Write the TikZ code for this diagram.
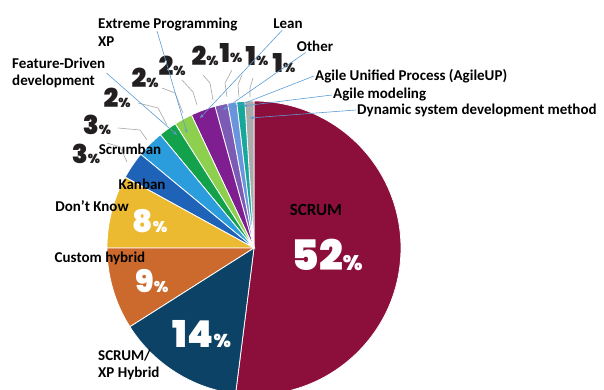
\documentclass[tikz,border=0pt]{standalone}
\usepackage{fontspec}
\setmainfont{Carlito}
\IfFontExistsTF{Poppins Black}
  {\newfontfamily\pctfont{Poppins Black}[BoldFont={Poppins Black}]}
  {\newfontfamily\pctfont{Poppins}}
\usepackage{xcolor}
\usepackage{tikz}
\usetikzlibrary{arrows.meta, positioning}

\definecolor{scrumred}{HTML}{8C0E3A}
\definecolor{hybridblue}{HTML}{0D4267}
\definecolor{customorange}{HTML}{CC6A2E}
\definecolor{dkyellow}{HTML}{EBBA31}
\definecolor{kanbanblue}{HTML}{1E63B8}
\definecolor{scrumbanblue}{HTML}{2B9CDC}
\definecolor{fddgreen}{HTML}{14A14B}
\definecolor{xpgreen}{HTML}{8DD04D}
\definecolor{leanpurple}{HTML}{7E1E91}
\definecolor{otherlilac}{HTML}{7B5BB3}
\definecolor{upblue}{HTML}{6A95DD}
\definecolor{modteal}{HTML}{17A89B}
\definecolor{dsdmgray}{HTML}{ABABAB}
\definecolor{callblue}{HTML}{5B9BD5}
\definecolor{leadgray}{HTML}{A6A6A6}
\definecolor{pctdark}{HTML}{231F20}

% one wedge of the pie: colour, start angle, end angle
\newcommand{\pieslice}[3]{%
  \filldraw[wedge, fill=#1] (c) -- ++(#2:147) arc[start angle=#2, end angle=#3, radius=147] -- cycle;}
\newcommand{\pc}[1]{#1\scalebox{0.5}{\%}}

\begin{document}
\begin{tikzpicture}[
  x=1pt, y=1pt,
  wedge/.style={draw=white, line width=0.8pt},
  lbl/.style={
    font=\bfseries\fontsize{15}{17.5}\selectfont,
    inner sep=1pt,
    align=left
  },
  pct/.style={
    font=\pctfont\bfseries\fontsize{26}{26}\selectfont,
    text=pctdark,
    inner sep=0pt
  },
  inpct/.style={pct, text=white},
  callout/.style={-{Stealth[length=4pt, width=3pt]}, draw=callblue, line width=0.6pt},
  leader/.style={draw=leadgray, line width=0.6pt}
]

\useasboundingbox (0,0) rectangle (604,390);

\coordinate (c) at (254,142);

% the pie
\begin{scope}
\clip (0,0) rectangle (604,390);
\pieslice{scrumred}{-97.2}{90}
\pieslice{dsdmgray}{90}{93.6}
\pieslice{modteal}{93.6}{96.8}
\pieslice{upblue}{96.8}{100.4}
\pieslice{otherlilac}{100.4}{105.4}
\pieslice{leanpurple}{105.4}{115.2}
\pieslice{xpgreen}{115.2}{122.4}
\pieslice{fddgreen}{122.4}{129.6}
\pieslice{scrumbanblue}{129.6}{140.4}
\pieslice{kanbanblue}{140.4}{151.2}
\pieslice{dkyellow}{151.2}{180}
\pieslice{customorange}{180}{212.4}
\pieslice{hybridblue}{212.4}{262.8}
\end{scope}

% labels inside and beside the pie
\node[lbl, font=\bfseries\fontsize{17}{20}\selectfont] (scrum) at (316,180) {SCRUM};
\node[inpct, font=\pctfont\bfseries\fontsize{42}{42}\selectfont] (p52) at (327,135) {\pc{52}};
\node[inpct, font=\pctfont\bfseries\fontsize{37}{37}\selectfont] (p14) at (202,56) {\pc{14}};
\node[inpct, font=\pctfont\bfseries\fontsize{31}{31}\selectfont] (p9) at (152,109) {\pc{9}};
\node[inpct, font=\pctfont\bfseries\fontsize{31}{31}\selectfont] (p8) at (150,169) {\pc{8}};

\node[lbl, anchor=west] (hybrid) at (97,25) {SCRUM/\\XP Hybrid};
\node[lbl] (custom) at (100,132) {Custom hybrid};
\node[lbl] (dontknow) at (92,184) {Don’t Know};
\node[lbl] (kanban) at (142,206) {Kanban};
\node[lbl] (scrumban) at (130,241) {Scrumban};
\node[lbl, anchor=west] (fdd) at (11,317) {Feature-Driven\\development};
\node[lbl, anchor=west] (xp) at (97,358) {Extreme Programming\\XP};
\node[lbl] (lean) at (288,366) {Lean};
\node[lbl] (other) at (315,344) {Other};
\node[lbl, anchor=west] (agileup) at (314,314) {Agile Unified Process (AgileUP)};
\node[lbl, anchor=west] (agilemod) at (332,295) {Agile modeling};
\node[lbl, anchor=west] (dsdm) at (356,280) {Dynamic system development method};

% outside percentages
\node[pct] (pKanban) at (86,236) {\pc{3}};
\node[pct] (pScrumban) at (97,265) {\pc{3}};
\node[pct] (pFdd) at (117,292) {\pc{2}};
\node[pct] (pXp) at (145,312) {\pc{2}};
\node[pct] (pLean) at (172,324) {\pc{2}};
\node[pct] (pOther) at (205,334) {\pc{2}};
\node[pct] (pUp) at (231,337) {\pc{1}};
\node[pct] (pMod) at (257,334) {\pc{1}};
\node[pct] (pDsdm) at (284,327) {\pc{1}};

% leader lines
\coordinate (kanbanA) at (107,247);
\coordinate (kanbanB) at (120,243);
\coordinate (kanbanC) at (127,228);
\coordinate (scrumbanA) at (118,262);
\coordinate (scrumbanB) at (140,260);
\coordinate (scrumbanC) at (147,250);
\coordinate (fddA) at (138,287);
\coordinate (fddB) at (158,282);
\coordinate (fddC) at (167,265);
\coordinate (xpA) at (162,302);
\coordinate (xpB) at (175,297);
\coordinate (xpC) at (183,277);
\coordinate (leanA) at (182,310);
\coordinate (leanB) at (193,298);
\coordinate (leanC) at (197,285);
\coordinate (otherA) at (203,315);
\coordinate (otherB) at (210,307);
\coordinate (otherC) at (213,290);
\coordinate (upA) at (232,320);
\coordinate (upB) at (225,307);
\coordinate (upC) at (227,293);
\coordinate (modA) at (242,315);
\coordinate (modB) at (238,305);
\coordinate (modC) at (239,293);
\coordinate (dsdmA) at (253,312);
\coordinate (dsdmB) at (250,302);
\coordinate (dsdmC) at (250,293);

\draw[leader] (kanbanA) -- (kanbanB) -- (kanbanC);
\draw[leader] (scrumbanA) -- (scrumbanB) -- (scrumbanC);
\draw[leader] (fddA) -- (fddB) -- (fddC);
\draw[leader] (xpA) -- (xpB) -- (xpC);
\draw[leader] (leanA) -- (leanB) -- (leanC);
\draw[leader] (otherA) -- (otherB) -- (otherC);
\draw[leader] (upA) -- (upB) -- (upC);
\draw[leader] (modA) -- (modB) -- (modC);
\draw[leader] (dsdmA) -- (dsdmB) -- (dsdmC);

% callout arrows
\coordinate (xpFrom) at (157,359);
\coordinate (fddTip) at (177,255);
\coordinate (xpTip) at (187,257);
\coordinate (leanTip) at (200,272);
\coordinate (otherTip) at (223,280);
\coordinate (upTip) at (232,282);
\coordinate (modTip) at (243,284);
\coordinate (dsdmTip) at (250,272);

\draw[callout] (fdd.east) -- (fddTip);
\draw[callout] (xpFrom) -- (xpTip);
\draw[callout] (lean) -- (leanTip);
\draw[callout] (other) -- (otherTip);
\draw[callout] (agileup.west) -- (upTip);
\draw[callout] (agilemod.west) -- (modTip);
\draw[callout] (dsdm.west) -- (dsdmTip);

\end{tikzpicture}
\end{document}
